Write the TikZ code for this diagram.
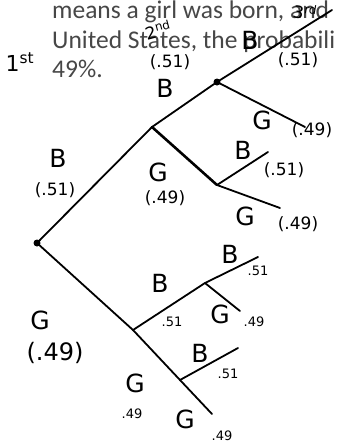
\documentclass[tikz,border=0pt]{standalone}
\usepackage{fontspec}
\setmainfont{Carlito}
\newfontfamily\handfont{DejaVu Sans}
\usetikzlibrary{positioning}

\begin{document}
\begin{tikzpicture}[x=1pt,y=-1pt,
  branch/.style={line width=1.8pt,line cap=round},
  pagetext/.style={anchor=base west,inner sep=0pt,text=black!72,font=\fontsize{25.5}{28}\selectfont},
  letter/.style={font=\handfont\fontsize{25}{26}\selectfont},
  prob/.style={font=\handfont\fontsize{17}{18}\selectfont},
  smallprob/.style={font=\handfont\fontsize{13}{14}\selectfont}]
  \useasboundingbox (0,0) rectangle (337,448);
  \clip (0,0) rectangle (337,448);
  % Page text behind the sketch
  \node[pagetext] (line1) at (52,18) {means a girl was born, and};
  \node[pagetext] (line2) at (52,48) {United States, the probabili};
  \node[pagetext] (line3) at (52,77) {49\%.};
  % Branch points
  \coordinate (root) at (37,243);
  \coordinate (b) at (152,127);
  \coordinate (bb) at (217,82);
  \coordinate (bbb) at (332,10);
  \coordinate (bbg) at (305,127);
  \coordinate (bg) at (217,185);
  \coordinate (bgb) at (268,152);
  \coordinate (bgg) at (280,208);
  \coordinate (g) at (133,330);
  \coordinate (gb) at (205,283);
  \coordinate (gbb) at (258,257);
  \coordinate (gbg) at (240,311);
  \coordinate (gg) at (180,380);
  \coordinate (ggb) at (238,348);
  \coordinate (ggg) at (212,414);
  % Tree
  \draw[branch] (root) -- (b) -- (bb) -- (bbb);
  \draw[branch] (bb) -- (bbg);
  \draw[branch,line width=2.6pt] (b) -- (bg);
  \draw[branch] (bg) -- (bgb);
  \draw[branch] (bg) -- (bgg);
  \draw[branch] (root) -- (g) -- (gg) -- (ggg);
  \draw[branch] (g) -- (gb) -- (gbb);
  \draw[branch] (gb) -- (gbg);
  \draw[branch] (gg) -- (ggb);
  \fill (root) circle (3.5);
  \fill (bb) circle (3.5);
  % Level marks
  \node[prob,font=\handfont\fontsize{22}{24}\selectfont] (first) at (20,62) {1\textsuperscript{st}};
  \node[prob,rotate=15] (second) at (158,30) {2\textsuperscript{nd}};
  \node[prob,rotate=-10] (third) at (305,12) {3\textsuperscript{rd}};
  % Labels
  \node[prob] (pb1) at (170,62) {(.51)};
  \node[letter] (lb1) at (165,88) {B};
  \node[letter] (lbbb) at (250,40) {B};
  \node[prob] (pbbb) at (298,60) {(.51)};
  \node[letter] (lbbg) at (262,120) {G};
  \node[prob] (pbbg) at (312,130) {(.49)};
  \node[letter] (lb) at (58,158) {B};
  \node[prob] (pb) at (55,190) {(.51)};
  \node[letter] (lbg) at (158,172) {G};
  \node[prob] (pbg) at (165,198) {(.49)};
  \node[letter] (lbgb) at (243,150) {B};
  \node[prob] (pbgb) at (284,170) {(.51)};
  \node[letter] (lbgg) at (245,216) {G};
  \node[prob] (pbgg) at (298,224) {(.49)};
  \node[letter] (lg) at (40,320) {G};
  \node[prob,font=\handfont\fontsize{24}{26}\selectfont] (pg) at (55,353) {(.49)};
  \node[letter] (lgb) at (160,283) {B};
  \node[smallprob] (pgb) at (172,322) {.51};
  \node[letter] (lgbb) at (230,254) {B};
  \node[smallprob] (pgbb) at (258,271) {.51};
  \node[letter] (lgbg) at (220,314) {G};
  \node[smallprob] (pgbg) at (254,322) {.49};
  \node[letter] (lgg) at (135,383) {G};
  \node[smallprob] (pgg) at (132,414) {.49};
  \node[letter] (lggb) at (200,353) {B};
  \node[smallprob] (pggb) at (228,374) {.51};
  \node[letter] (lggg) at (185,419) {G};
  \node[smallprob] (pggg) at (222,436) {.49};
\end{tikzpicture}
\end{document}
